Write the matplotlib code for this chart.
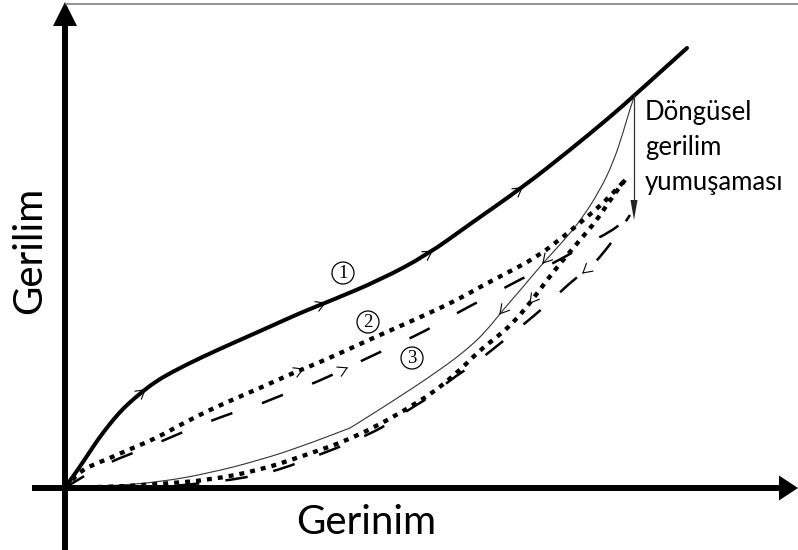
import numpy as np
import matplotlib
matplotlib.use("Agg")
import matplotlib.pyplot as plt
from matplotlib.patches import Polygon, Circle, PathPatch
from matplotlib.path import Path

# ---- data (arbitrary strain / stress units) ----
c1_load_x = [0, 4, 14, 24, 34, 44, 54, 64, 77, 90, 107, 135, 168, 202, 235, 265, 315, 362, 405, 458, 505, 545, 570, 622]
c1_load_y = [0, 6, 20, 35, 50, 63, 75, 85, 96, 106, 116, 130, 145, 160, 175, 187, 208, 233, 264, 301, 338, 371, 393, 440]

c1_unload_x = [570, 567, 558, 548, 535, 518, 502, 478, 458, 438, 422, 405, 375, 325, 285, 285, 235, 195, 145, 95, 45, 0]
c1_unload_y = [393, 386, 355, 325, 298, 271, 251, 225, 201, 178, 158, 141, 118, 85, 60, 60, 41, 28, 15, 6, 2, 0]

c2_load_x = [0, 7, 15, 25, 45, 63, 80, 97, 128, 162, 195, 228, 258, 308, 358, 392, 415, 438, 472, 498, 522, 545, 560]
c2_load_y = [0, 8, 16, 22, 30, 38, 45, 53, 70, 86, 100, 115, 127, 150, 172, 188, 201, 213, 231, 251, 271, 291, 308]

c2_unload_x = [560, 545, 532, 515, 498, 482, 465, 448, 432, 415, 390, 358, 292, 235, 195, 145, 95, 45, 0]
c2_unload_y = [308, 288, 268, 248, 228, 208, 185, 165, 151, 138, 113, 88, 51, 31, 18, 8, 4, 1, 0]

c3_load_x = [0, 15, 45, 68, 95, 118, 143, 167, 193, 217, 242, 265, 290, 313, 337, 360, 385, 407, 432, 452, 495, 523, 545, 558, 565]
c3_load_y = [0, 10, 26, 35, 46, 56, 66, 75, 83, 93, 102, 112, 124, 135, 146, 157, 171, 183, 196, 207, 228, 245, 256, 266, 273]

c3_unload_x = [565, 550, 535, 525, 508, 487, 470, 448, 432, 408, 385, 365, 343, 322, 298, 272, 248, 225, 202, 172, 147, 120, 95, 45, 0]
c3_unload_y = [273, 250, 231, 220, 208, 188, 173, 155, 142, 123, 108, 91, 78, 63, 51, 40, 31, 22, 15, 9, 6, 3, 1, 0, 0]

# direction-marker positions (strain values along each curve)
c1_load_marks = [80, 260, 367, 457]
c1_unload_marks = [478, 435]
c2_load_marks = [238]
c2_unload_marks = [465]
c3_load_marks = [282]
c3_unload_marks = [518]

cycle_labels = ["1", "2", "3"]
cycle_label_x = [278, 303, 347]
cycle_label_y = [215, 166, 130]

note_lines = ["Döngüsel", "gerilim", "yumuşaması"]
x_label = "Gerinim"
y_label = "Gerilim"

# ---- figure ----
W, H = 798, 550
fig = plt.figure(figsize=(W / 100, H / 100), dpi=100)
ax = fig.add_axes([0, 0, 1, 1])
ax.set_xlim(-65, 733)
ax.set_ylim(-62, 488)
ax.axis("off")

# frame line at top
ax.plot([0, 733], [484.5, 484.5], color="#7f7f7f", lw=1.2, solid_capstyle="butt")

# axes with arrow heads
ax.plot([0, 0], [-62, 463], color="black", lw=4.3, solid_capstyle="butt")
ax.add_patch(Polygon([[-12, 462], [12, 462], [0, 486]], closed=True, color="black", lw=0))
ax.plot([-33, 716], [0, 0], color="black", lw=4.3, solid_capstyle="butt")
ax.add_patch(Polygon([[714, -12.5], [714, 12.5], [733, 0]], closed=True, color="black", lw=0))


def smooth_curve(xs, ys, **kw):
    """Draw the read points as a smooth quadratic B-spline path."""
    P = np.column_stack([xs, ys]).astype(float)
    verts = [P[0]]
    codes = [Path.MOVETO]
    n = len(P)
    for i in range(1, n - 1):
        end = (P[i] + P[i + 1]) / 2 if i < n - 2 else P[-1]
        verts += [P[i], end]
        codes += [Path.CURVE3, Path.CURVE3]
    patch = PathPatch(Path(verts, codes), fill=False, **kw)
    ax.add_patch(patch)
    return patch


dot = (0, (1.15, 1.4))
smooth_curve(c1_load_x, c1_load_y, edgecolor="black", lw=2.9, joinstyle="round", capstyle="round")
smooth_curve(c1_unload_x, c1_unload_y, edgecolor="#333333", lw=0.8)
for xs, ys in ((c2_load_x, c2_load_y), (c2_unload_x, c2_unload_y)):
    smooth_curve(xs, ys, edgecolor="black", lw=3.1, linestyle=dot, capstyle="butt")
smooth_curve(c3_load_x, c3_load_y, edgecolor="black", lw=1.8, linestyle=(0, (9, 12.5)), capstyle="butt")
smooth_curve(c3_unload_x, c3_unload_y, edgecolor="black", lw=1.8, linestyle=(6, (9, 10.5)), capstyle="butt")


def chevrons(xs, ys, marks, size=10, ang=30):
    xs = np.asarray(xs, float)
    ys = np.asarray(ys, float)
    order = np.argsort(xs, kind="stable")
    for m in marks:
        i = int(np.argmin(np.abs(xs - m)))
        i0, i1 = max(i - 1, 0), min(i + 1, len(xs) - 1)
        dx, dy = xs[i1] - xs[i0], ys[i1] - ys[i0]
        L = np.hypot(dx, dy)
        dx, dy = dx / L, dy / L
        px = m
        py = np.interp(m, xs[order], ys[order])
        for s in (1, -1):
            a = np.deg2rad(180 + s * ang)
            bx = dx * np.cos(a) - dy * np.sin(a)
            by = dx * np.sin(a) + dy * np.cos(a)
            ax.plot([px, px + size * bx], [py, py + size * by], color="black", lw=0.8)


chevrons(c1_load_x, c1_load_y, c1_load_marks)
chevrons(c1_unload_x, c1_unload_y, c1_unload_marks)
chevrons(c2_load_x, c2_load_y, c2_load_marks)
chevrons(c2_unload_x, c2_unload_y, c2_unload_marks)
chevrons(c3_load_x, c3_load_y, c3_load_marks)
chevrons(c3_unload_x, c3_unload_y, c3_unload_marks)

# cycle labels in circles
for t, cx, cy in zip(cycle_labels, cycle_label_x, cycle_label_y):
    ax.add_patch(Circle((cx, cy), 11, fill=False, lw=0.9, color="black"))
    ax.text(cx, cy - 0.5, t, ha="center", va="center", fontsize=13.5,
            family="Liberation Serif")

# softening arrow
top_x = c1_unload_x[0] - 1
ax.plot([top_x, top_x], [392, 285], color="#333333", lw=0.9)
ax.add_patch(Polygon([[top_x - 3.5, 288], [top_x + 3.5, 288], [top_x, 268]], closed=True,
                     color="#222222", lw=0))

# texts
ys_note = [368, 333, 298]
for t, yy in zip(note_lines, ys_note):
    ax.text(580, yy, t, ha="left", va="baseline", fontsize=18.5, family="Lato")

ax.text(301, -34, x_label, ha="center", va="center", fontsize=29, family="Lato")
ax.text(-35, 238, y_label, ha="center", va="center", fontsize=29, family="Lato", rotation=90)

fig.savefig("out.png", dpi=100)
